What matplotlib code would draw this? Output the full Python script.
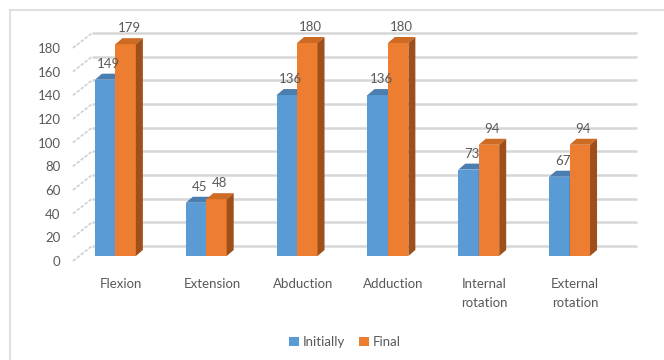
import matplotlib
matplotlib.use("Agg")
import matplotlib.pyplot as plt
from matplotlib.patches import Polygon, Rectangle, Patch
from matplotlib.lines import Line2D
from matplotlib.transforms import ScaledTranslation

# ---- data ----
categories = ["Flexion", "Extension", "Abduction", "Adduction",
              "Internal\nrotation", "External\nrotation"]
initially = [149, 45, 136, 136, 73, 67]
final = [179, 48, 180, 180, 94, 94]
y_ticks = list(range(0, 181, 20))
series_names = ["Initially", "Final"]

# ---- style ----
BLUE, BLUE_TOP, BLUE_SIDE = "#5b9bd5", "#4a7db0", "#3f6e9c"
ORANGE, ORANGE_TOP, ORANGE_SIDE = "#ed7d31", "#cd6a24", "#9e4f1a"
TEXT = "#595959"
GRID = "#d6d6d6"
FONT = "Lato"
FS = 9.5

W, H, DPI = 664, 360, 100
fig = plt.figure(figsize=(W / DPI, H / DPI), dpi=DPI)
fig.patch.set_facecolor("white")

# front plane of the pseudo 3-D box (pixels)
left_px, right_px, bottom_px, top_px = 73, 618, 261, 48
ax = fig.add_axes([left_px / W, 1 - bottom_px / H,
                   (right_px - left_px) / W, (bottom_px - top_px) / H])
n = len(categories)
ax.set_xlim(0, n)
ax.set_ylim(0, 180)
ax.set_facecolor("none")
for s in ax.spines.values():
    s.set_visible(False)

xpu = (right_px - left_px) / n          # pixels per x unit
ypu = (bottom_px - top_px) / 180.0      # pixels per y unit


def shifted(dx_px, dy_px):
    return ax.transData + ScaledTranslation(dx_px / DPI, dy_px / DPI, fig.dpi_scale_trans)


wall = shifted(19, 15)     # back wall
bar_plane = shifted(6, 5)  # plane of the bar fronts

# back wall gridlines and the slanted ticks on the side wall
for v in y_ticks:
    ax.plot([0, n], [v, v], transform=wall, color=GRID, lw=1.8,
            solid_capstyle="butt", clip_on=False, zorder=1)
    ax.plot([0, 19 / xpu], [v, v + 15 / ypu], color="#cfcfcf", lw=1.2,
            ls=(0, (2, 1)), clip_on=False, zorder=1)

# bars
bw = 0.225
depth_x, depth_y = 7 / xpu, 6 / ypu


def draw_bar(x0, val, front, top, side, z):
    ax.add_patch(Rectangle((x0, 0), bw, val, facecolor=front, edgecolor="none",
                           transform=bar_plane, clip_on=False, zorder=z))
    ax.add_patch(Polygon([(x0, val), (x0 + bw, val), (x0 + bw + depth_x, val + depth_y),
                          (x0 + depth_x, val + depth_y)], closed=True, facecolor=top,
                         edgecolor="none", transform=bar_plane, clip_on=False, zorder=z))
    ax.add_patch(Polygon([(x0 + bw, 0), (x0 + bw + depth_x, depth_y),
                          (x0 + bw + depth_x, val + depth_y), (x0 + bw, val)], closed=True,
                         facecolor=side, edgecolor="none", transform=bar_plane,
                         clip_on=False, zorder=z))
    ax.annotate(f"{val}", xy=(x0 + bw / 2 + depth_x / 2, val), xycoords=bar_plane,
                xytext=(0, 6 + 10), textcoords="offset pixels", ha="center", va="center",
                fontsize=FS, family=FONT, color=TEXT, zorder=10, annotation_clip=False)


for i in range(n):
    x0 = i + 0.5 - 0.324
    draw_bar(x0, initially[i], BLUE, BLUE_TOP, BLUE_SIDE, 3)
    draw_bar(x0 + bw, final[i], ORANGE, ORANGE_TOP, ORANGE_SIDE, 4)

# axis labels
ax.set_yticks(y_ticks)
ax.set_yticklabels([str(t) for t in y_ticks], fontsize=FS, family=FONT, color=TEXT)
ax.tick_params(axis="y", length=0, pad=9)
ax.set_xticks([i + 0.53 for i in range(n)])
ax.set_xticklabels(categories, fontsize=FS, family=FONT, color=TEXT, linespacing=1.75)
ax.tick_params(axis="x", length=0, pad=12)

# legend
handles = [Patch(facecolor=BLUE, label=series_names[0]),
           Patch(facecolor=ORANGE, label=series_names[1])]
fig.legend(handles=handles, loc="center", bbox_to_anchor=(345 / W, 1 - 342 / H), ncol=2,
           frameon=False, handlelength=0.75, handleheight=0.75, handletextpad=0.3,
           columnspacing=1.0, prop={"family": FONT, "size": FS}, labelcolor=TEXT)

# chart area border
fig.add_artist(Line2D([10 / W, 1], [1 - 10 / H, 1 - 10 / H], transform=fig.transFigure,
                      color="#d9d9d9", lw=1.2))
fig.add_artist(Line2D([10 / W, 10 / W], [0, 1 - 10 / H], transform=fig.transFigure,
                      color="#d9d9d9", lw=1.2))

fig.savefig("out.png", dpi=DPI, facecolor="white")
